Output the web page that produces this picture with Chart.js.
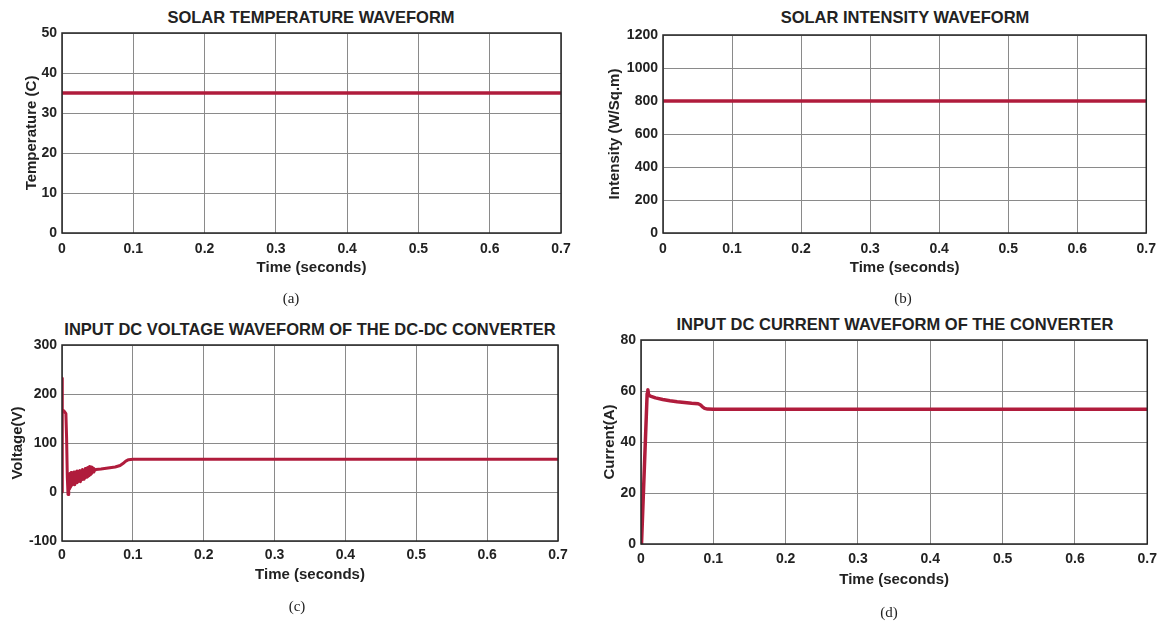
<!DOCTYPE html>
<html>
<head>
<meta charset="utf-8">
<script src="https://cdn.jsdelivr.net/npm/chart.js@4.4.1/dist/chart.umd.min.js"></script>
<style>
  html, body { margin: 0; padding: 0; background: #fff; }
  body { width: 1164px; height: 623px; position: relative; overflow: hidden; }
  canvas { position: absolute; }
  .title { position: absolute; transform: translateX(-50%); white-space: nowrap;
    font: bold 16.5px "Liberation Sans", Arial, sans-serif; color: #222; line-height: 1; }
  .caption { position: absolute; transform: translateX(-50%); white-space: nowrap;
    font: 15px "Liberation Serif", "DejaVu Serif", serif; color: #222; line-height: 1; }
</style>
</head>
<body>
<div class="title" style="left:311px; top:9px;">SOLAR TEMPERATURE WAVEFORM</div>
<div class="title" style="left:905px; top:9px;">SOLAR INTENSITY WAVEFORM</div>
<div class="title" style="left:310px; top:321px;">INPUT DC VOLTAGE WAVEFORM OF THE DC-DC CONVERTER</div>
<div class="title" style="left:895px; top:316px;">INPUT DC CURRENT WAVEFORM OF THE CONVERTER</div>

<canvas id="tempChart" width="557" height="277" style="left:23px; top:0px;"></canvas>
<canvas id="irrChart" width="558" height="277" style="left:606px; top:0px;"></canvas>
<canvas id="voltChart" width="566" height="284" style="left:9px; top:300px;"></canvas>
<canvas id="currChart" width="563" height="289" style="left:601px; top:300px;"></canvas>

<div class="caption" style="left:291px; top:291px;">(a)</div>
<div class="caption" style="left:903px; top:291px;">(b)</div>
<div class="caption" style="left:297px; top:599px;">(c)</div>
<div class="caption" style="left:889px; top:605px;">(d)</div>

<script>
// time axis ticks (seconds)
const timeTicks = [0, 0.1, 0.2, 0.3, 0.4, 0.5, 0.6, 0.7];

// (a) solar temperature
const tempTime = [0, 0.7];
const tempValue = [35, 35];

// (b) solar intensity
const irrTime = [0, 0.7];
const irrValue = [800, 800];

// (c) input dc voltage
const voltTime = [0, 0.0002, 0.0006, 0.003, 0.0055, 0.0065, 0.0075, 0.0085, 0.0095,
  0.010, 0.011, 0.012, 0.013, 0.014, 0.015, 0.016, 0.017, 0.018, 0.019,
  0.020, 0.021, 0.022, 0.023, 0.024, 0.025, 0.026, 0.027, 0.028, 0.029,
  0.030, 0.031, 0.032, 0.033, 0.034, 0.035, 0.036, 0.037, 0.038, 0.039,
  0.040, 0.041, 0.042, 0.043, 0.044, 0.045, 0.046, 0.048, 0.055, 0.065,
  0.075, 0.082, 0.086, 0.090, 0.094, 0.100, 0.300, 0.500, 0.700];
const voltValue = [0, 232, 168, 165, 160, 110, 30, -5, 30,
  7, 38, 10, 40, 14, 38, 16, 41, 15, 40,
  19, 43, 20, 42, 22, 44, 21, 43, 25, 46,
  26, 45, 28, 48, 30, 49, 31, 50, 33, 52,
  35, 51, 38, 50, 41, 48, 44, 46, 47, 49,
  51, 54, 58, 63, 66, 67, 67, 67, 67];

// (d) input dc current
const currTime = [0, 0.0004, 0.001, 0.0085, 0.0095, 0.0105, 0.013, 0.020, 0.030, 0.040,
  0.050, 0.060, 0.070, 0.079, 0.082, 0.085, 0.088, 0.092, 0.100, 0.700];
const currValue = [15, 0, 0, 59, 60.5, 58.5, 58, 57.3, 56.7, 56.2,
  55.8, 55.5, 55.2, 55, 54.6, 53.8, 53.2, 52.9, 52.8, 52.8];

const lineColor = "#b01c3c";
const gridColor = "#8a8a8a";
const textColor = "#222";
const fontFamily = "'Liberation Sans', Arial, sans-serif";

// black box round the plot area, like the matlab axes
const framePlugin = {
  id: "frame",
  afterDatasetsDraw(chart) {
    const a = chart.chartArea;
    const ctx = chart.ctx;
    ctx.save();
    ctx.strokeStyle = "#262626";
    ctx.lineWidth = 1.5;
    ctx.strokeRect(a.left, a.top, a.right - a.left, a.bottom - a.top);
    ctx.restore();
  }
};

function makeChart(id, xs, ys, opt) {
  const ctx = document.getElementById(id).getContext("2d");
  return new Chart(ctx, {
    type: "line",
    data: {
      datasets: [{
        data: xs.map((x, i) => ({ x: x, y: ys[i] })),
        borderColor: lineColor,
        borderWidth: opt.lineWidth || 3,
        borderJoinStyle: "round",
        borderCapStyle: "round",
        pointRadius: 0,
        tension: 0,
        fill: false
      }]
    },
    options: {
      responsive: false,
      animation: false,
      devicePixelRatio: 1,
      layout: { padding: { top: opt.padTop, right: opt.padRight, left: 0, bottom: 0 } },
      plugins: { legend: { display: false }, tooltip: { enabled: false } },
      scales: {
        x: {
          type: "linear",
          min: 0,
          max: 0.7,
          afterBuildTicks: s => { s.ticks = timeTicks.map(v => ({ value: v })); },
          afterFit: s => { s.height = opt.xHeight; },
          grid: { color: gridColor, lineWidth: 1, drawTicks: false },
          border: { display: false },
          ticks: {
            color: textColor,
            padding: opt.xPad,
            maxRotation: 0,
            font: { family: fontFamily, size: 14, weight: "bold" },
            callback: v => String(Math.round(v * 10) / 10)
          },
          title: {
            display: true,
            text: "Time (seconds)",
            color: textColor,
            padding: 0,
            font: { family: fontFamily, size: 15, weight: "bold" }
          }
        },
        y: {
          min: opt.yMin,
          max: opt.yMax,
          afterFit: s => { s.width = opt.yWidth; },
          grid: { color: gridColor, lineWidth: 1, drawTicks: false },
          border: { display: false },
          ticks: {
            stepSize: opt.yStep,
            color: textColor,
            padding: 5,
            font: { family: fontFamily, size: 14, weight: "bold" },
            callback: v => String(v)
          },
          title: {
            display: true,
            text: opt.yLabel,
            color: textColor,
            padding: 0,
            font: { family: fontFamily, size: 15, weight: "bold" }
          }
        }
      }
    },
    plugins: [framePlugin]
  });
}

makeChart("tempChart", tempTime, tempValue, {
  yMin: 0, yMax: 50, yStep: 10, yLabel: "Temperature (C)",
  padTop: 33, padRight: 19, yWidth: 39, xHeight: 44, xPad: 8, lineWidth: 3.5
});
makeChart("irrChart", irrTime, irrValue, {
  yMin: 0, yMax: 1200, yStep: 200, yLabel: "Intensity (W/Sq.m)",
  padTop: 35, padRight: 17, yWidth: 57, xHeight: 44, xPad: 8, lineWidth: 3.5
});
makeChart("voltChart", voltTime, voltValue, {
  yMin: -100, yMax: 300, yStep: 100, yLabel: "Voltage(V)",
  padTop: 45, padRight: 17, yWidth: 53, xHeight: 43, xPad: 6, lineWidth: 3
});
makeChart("currChart", currTime, currValue, {
  yMin: 0, yMax: 80, yStep: 20, yLabel: "Current(A)",
  padTop: 40, padRight: 14, yWidth: 40, xHeight: 45, xPad: 7, lineWidth: 3.5
});
</script>
</body>
</html>
